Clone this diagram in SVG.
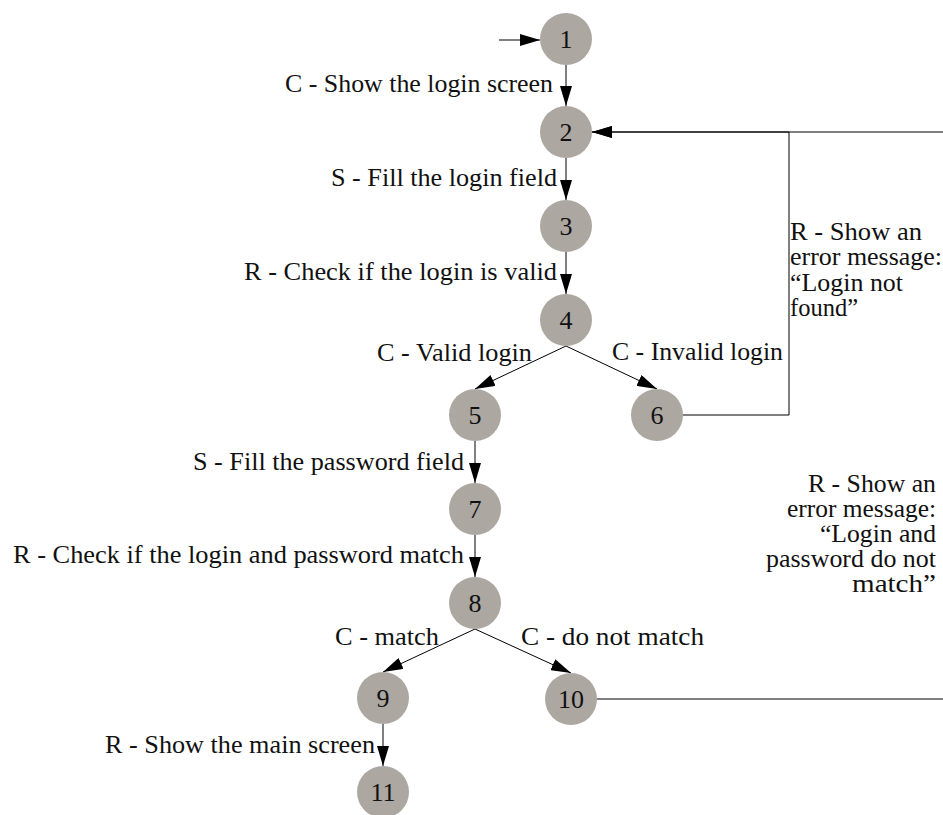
<svg xmlns="http://www.w3.org/2000/svg" width="943" height="815" viewBox="0 0 943 815">
  <style>
    .node circle { fill: #aca7a1; stroke: none; }
    .node text { font-family: "Liberation Serif", "DejaVu Serif", "Times New Roman", serif; font-size: 26px; fill: #111; text-anchor: middle; }
    .edge { fill: none; stroke: #000; stroke-width: 1; marker-end: url(#arrow); }
    .label { font-family: "Liberation Serif", "DejaVu Serif", "Times New Roman", serif; font-size: 25px; fill: #111; }
  </style>
  <defs>
    <marker id="arrow" viewBox="0 0 20 12" refX="20" refY="6" markerWidth="20" markerHeight="12" markerUnits="userSpaceOnUse" orient="auto">
      <path d="M0,0 L20,6 L0,12 z" fill="#000"/>
    </marker>
  </defs>
  <rect width="943" height="815" fill="#fff"/>

  <!-- connectors -->
  <g id="edges">
    <path class="edge" d="M499,40 L540,40"/>
    <path class="edge" d="M566,65 L566,106"/>
    <path class="edge" d="M566,158 L566,200"/>
    <path class="edge" d="M566,252 L566,294"/>
    <path class="edge" d="M566,346 L475,389"/>
    <path class="edge" d="M566,346 L657,389"/>
    <path class="edge" d="M475,441 L475,483"/>
    <path class="edge" d="M475,535 L475,577"/>
    <path class="edge" d="M475,629 L383,672"/>
    <path class="edge" d="M475,629 L571,673"/>
    <path class="edge" d="M383,724 L383,766"/>
    <!-- 6 back to 2 -->
    <path class="edge" d="M683,415 L789,415 L789,132 L592,132"/>
    <!-- 10 back to 2, routed round the right side -->
    <path class="edge" d="M597,699 L970,699 L970,132 L592,132"/>

    <text class="label" x="285" y="92" textLength="268" lengthAdjust="spacingAndGlyphs">C - Show the login screen</text>
    <text class="label" x="331" y="186" textLength="226" lengthAdjust="spacingAndGlyphs">S - Fill the login field</text>
    <text class="label" x="244" y="280" textLength="313" lengthAdjust="spacingAndGlyphs">R - Check if the login is valid</text>
    <text class="label" x="377" y="361" textLength="155" lengthAdjust="spacingAndGlyphs">C - Valid login</text>
    <text class="label" x="612" y="360" textLength="171" lengthAdjust="spacingAndGlyphs">C - Invalid login</text>
    <text class="label" x="193" y="470" textLength="271" lengthAdjust="spacingAndGlyphs">S - Fill the password field</text>
    <text class="label" x="13" y="563" textLength="451" lengthAdjust="spacingAndGlyphs">R - Check if the login and password match</text>
    <text class="label" x="335" y="645" textLength="104" lengthAdjust="spacingAndGlyphs">C - match</text>
    <text class="label" x="521" y="645" textLength="183" lengthAdjust="spacingAndGlyphs">C - do not match</text>
    <text class="label" x="105" y="753" textLength="270" lengthAdjust="spacingAndGlyphs">R - Show the main screen</text>

    <g class="label">
      <text x="790" y="240" textLength="132" lengthAdjust="spacingAndGlyphs">R - Show an</text>
      <text x="790" y="265" textLength="152" lengthAdjust="spacingAndGlyphs">error message:</text>
      <text x="790" y="291" textLength="113" lengthAdjust="spacingAndGlyphs">“Login not</text>
      <text x="790" y="316" textLength="68" lengthAdjust="spacingAndGlyphs">found”</text>
    </g>
    <g class="label">
      <text x="808" y="492" textLength="128" lengthAdjust="spacingAndGlyphs">R - Show an</text>
      <text x="787" y="517" textLength="149" lengthAdjust="spacingAndGlyphs">error message:</text>
      <text x="820" y="542" textLength="116" lengthAdjust="spacingAndGlyphs">“Login and</text>
      <text x="766" y="567" textLength="170" lengthAdjust="spacingAndGlyphs">password do not</text>
      <text x="852" y="592" textLength="84" lengthAdjust="spacingAndGlyphs">match”</text>
    </g>
  </g>

  <!-- states -->
  <g id="n1" class="node"><circle cx="566" cy="39" r="26"/><text x="566" y="48">1</text></g>
  <g id="n2" class="node"><circle cx="566" cy="132" r="26"/><text x="566" y="141">2</text></g>
  <g id="n3" class="node"><circle cx="566" cy="226" r="26"/><text x="566" y="235">3</text></g>
  <g id="n4" class="node"><circle cx="566" cy="320" r="26"/><text x="566" y="329">4</text></g>
  <g id="n5" class="node"><circle cx="475" cy="415" r="26"/><text x="475" y="424">5</text></g>
  <g id="n6" class="node"><circle cx="657" cy="415" r="26"/><text x="657" y="424">6</text></g>
  <g id="n7" class="node"><circle cx="475" cy="509" r="26"/><text x="475" y="518">7</text></g>
  <g id="n8" class="node"><circle cx="475" cy="603" r="26"/><text x="475" y="612">8</text></g>
  <g id="n9" class="node"><circle cx="383" cy="698" r="26"/><text x="383" y="707">9</text></g>
  <g id="n10" class="node"><circle cx="571" cy="699" r="26"/><text x="571" y="708">10</text></g>
  <g id="n11" class="node"><circle cx="383" cy="792" r="26"/><text x="383" y="801">11</text></g>
</svg>
